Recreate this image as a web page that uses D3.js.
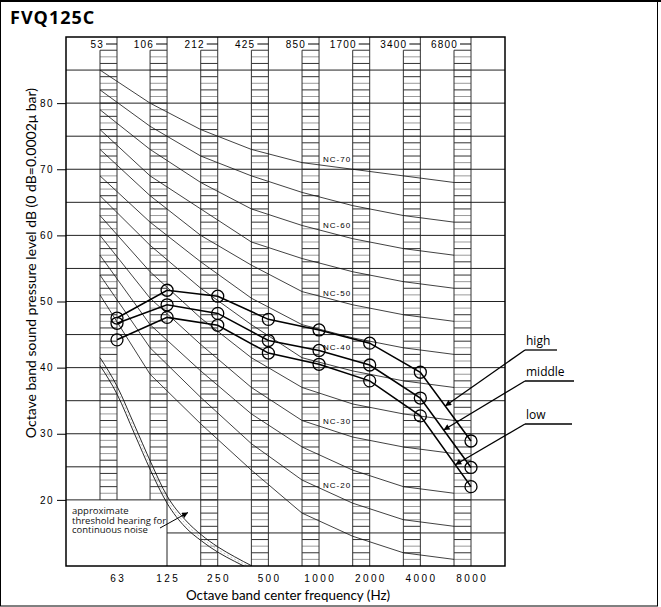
<!DOCTYPE html>
<html>
<head>
<meta charset="utf-8">
<script src="https://cdn.jsdelivr.net/npm/d3@7"></script>
<style>
  body { margin: 0; background: #fff; }
  svg text { font-family: "Open Sans", "Noto Sans", sans-serif; }
  .num { font-family: "Liberation Sans", Arial, sans-serif; }
  .ttl { font-family: Lato, "Open Sans", sans-serif; }
</style>
</head>
<body>
<div id="chart"></div>
<script>
// octave band centre frequencies (bottom) and old band centres (top)
var bands = [63, 125, 250, 500, 1000, 2000, 4000, 8000]
var oldBands = [53, 106, 212, 425, 850, 1700, 3400, 6800]
var yTicks = [20, 30, 40, 50, 60, 70, 80]

// NC curves, read at the old band centres (left edge of each hatched column)
var ncNames = ["NC-70", "NC-65", "NC-60", "NC-55", "NC-50", "NC-45", "NC-40", "NC-35", "NC-30", "NC-25", "NC-20", "NC-15"]
var nc70 = [85, 80, 76, 73, 71, 70, 69, 68]
var nc65 = [82, 76.5, 72, 69, 66.5, 64.5, 63, 62]
var nc60 = [79, 73, 68, 64, 61.5, 59.5, 58, 57]
var nc55 = [76, 69, 64, 59, 56.5, 54.5, 53, 52]
var nc50 = [73, 66, 60, 55.5, 51.5, 49.5, 48, 47]
var nc45 = [69, 62, 56, 50.5, 46.5, 44.5, 43, 42]
var nc40 = [66, 58.5, 52, 46.5, 41.5, 39.5, 38, 37]
var nc35 = [63, 54.5, 47.5, 41.5, 37, 34.5, 33, 32]
var nc30 = [60, 50.5, 43.5, 37, 32, 29.5, 28, 27]
var nc25 = [57, 46.5, 39.5, 33, 28, 24.5, 22, 21]
var nc20 = [54, 43, 35.5, 28.5, 23, 19.5, 17, 16]
var nc15 = [51, 39, 31.5, 24.5, 18, 14.5, 12, 11]
// labelled curves and the level their label sits at
var ncLabels = ["NC-70", "NC-60", "NC-50", "NC-40", "NC-30", "NC-20"]
var ncLabelDb = [71.5, 61.6, 51.3, 43.1, 31.9, 22.3]

// measured sound pressure levels of the unit (dB)
var high = [47.5, 51.7, 50.8, 47.3, 45.7, 43.7, 39.3, 28.9]
var middle = [46.7, 49.5, 48.2, 44.1, 42.6, 40.4, 35.4, 24.9]
var low = [44.2, 47.6, 46.4, 42.2, 40.5, 38.0, 32.7, 22.0]

// approximate threshold of hearing for continuous noise (two edges of the band)
var thrHz = [50, 63, 80, 100, 125, 160, 200, 250, 315, 400]
var thrDbA = [41.5, 37.2, 31.3, 25.7, 20.6, 17, 14.7, 12.9, 11.4, 10]
var thrDbB = [40.3, 36, 30, 24.4, 19.5, 15.9, 13.8, 12.1, 10.7, 9.4]

var W = 661, H = 607
var svg = d3.select("#chart").append("svg")
  .attr("width", W).attr("height", H)

// plot box
var pLeft = 66, pRight = 505, pTop = 37, pBottom = 566
var colW = 17

var x = d3.scaleLog().base(2).domain([63, 8000]).range([117, 471])
var y = d3.scaleLinear().domain([10, 90]).range([pBottom, pTop])

var defs = svg.append("defs")
defs.append("marker")
  .attr("id", "arr")
  .attr("viewBox", "0 0 10 10")
  .attr("refX", 10).attr("refY", 5)
  .attr("markerWidth", 9).attr("markerHeight", 6)
  .attr("markerUnits", "userSpaceOnUse")
  .attr("orient", "auto")
  .append("path").attr("d", "M0,0L10,5L0,10z").attr("fill", "#000")
defs.append("clipPath").attr("id", "plotclip")
  .append("rect").attr("x", pLeft).attr("y", pTop).attr("width", pRight - pLeft).attr("height", pBottom - pTop)

// outer border
svg.append("rect").attr("x", 0.5).attr("y", 1).attr("width", W - 4).attr("height", H - 2)
  .attr("fill", "none").attr("stroke", "#000").attr("stroke-width", 1)
svg.append("line").attr("x1", 0).attr("x2", W).attr("y1", 1).attr("y2", 1)
  .attr("stroke", "#000").attr("stroke-width", 2)

svg.append("text").attr("x", 10).attr("y", 24)
  .attr("font-size", 18).attr("font-weight", "bold").attr("letter-spacing", 1)
  .text("FVQ125C")

var g = svg.append("g")

// hatched columns
bands.forEach(function(f, i) {
  var xr = x(f), xl = xr - colW
  var lo = i < 2 ? 20 : 10
  var col = g.append("g")
  d3.range(lo + 1, 89).forEach(function(d) {
    col.append("line")
      .attr("x1", xl).attr("x2", xr).attr("y1", y(d)).attr("y2", y(d))
      .attr("stroke", d % 2 ? "#9a9a9a" : "#333").attr("stroke-width", 1)
  })
  col.append("line").attr("x1", xl).attr("x2", xl).attr("y1", y(88)).attr("y2", y(lo))
    .attr("stroke", "#333")
  col.append("line").attr("x1", xr).attr("x2", xr).attr("y1", pTop).attr("y2", y(lo))
    .attr("stroke", "#333")
  // old band label at the top
  g.append("line").attr("x1", xr - 11).attr("x2", xr).attr("y1", 44).attr("y2", 44)
    .attr("stroke", "#000")
  g.append("text").attr("class", "num")
    .attr("x", xr - 13).attr("y", 47.5).attr("text-anchor", "end")
    .attr("font-size", 10).attr("letter-spacing", 1.2)
    .text(oldBands[i])
  // band centre label at the bottom
  g.append("text").attr("class", "num")
    .attr("x", xr + 1.2).attr("y", 582).attr("text-anchor", "middle")
    .attr("font-size", 10).attr("letter-spacing", 2.4)
    .text(f)
})

// horizontal grid every 5 dB
d3.range(15, 90, 5).forEach(function(d) {
  g.append("line")
    .attr("x1", d < 20 ? 167 : pLeft).attr("x2", pRight)
    .attr("y1", y(d)).attr("y2", y(d))
    .attr("stroke", "#222").attr("stroke-width", 1)
})
// box for the threshold note
g.append("line").attr("x1", 167).attr("x2", 167).attr("y1", y(20)).attr("y2", pBottom)
  .attr("stroke", "#222")

// y axis
var yAxis = svg.append("g")
  .attr("transform", "translate(" + pLeft + ",0)")
  .call(d3.axisLeft(y).tickValues(yTicks).tickSize(9).tickPadding(3))
yAxis.select(".domain").remove()
yAxis.selectAll("text").attr("class", "num").attr("font-size", 10)
  .attr("letter-spacing", 1.5).attr("fill", "#000")
yAxis.selectAll("line").attr("stroke", "#000")

// NC curves
var ncAll = [nc70, nc65, nc60, nc55, nc50, nc45, nc40, nc35, nc30, nc25, nc20, nc15]
var ncLine = d3.line()
  .x(function(d, i) { return x(bands[i]) - colW })
  .y(function(d) { return y(d) })
var ncG = svg.append("g").attr("clip-path", "url(#plotclip)")
ncAll.forEach(function(vals, k) {
  ncG.append("path").datum(vals)
    .attr("d", ncLine)
    .attr("fill", "none").attr("stroke", "#111").attr("stroke-width", 0.8)
    .attr("class", ncNames[k])
})
ncLabels.forEach(function(t, i) {
  svg.append("text").attr("class", "num")
    .attr("x", x(1000) + 4).attr("y", y(ncLabelDb[i]) + 3)
    .attr("font-size", 8).attr("letter-spacing", 1)
    .text(t)
})

// threshold of hearing band
var thrLine = function(vals) {
  return d3.line()
    .x(function(d, i) { return x(thrHz[i]) })
    .y(function(d) { return y(d) })
    .curve(d3.curveMonotoneX)(vals)
}
ncG.append("path").attr("d", thrLine(thrDbA))
  .attr("fill", "none").attr("stroke", "#111").attr("stroke-width", 0.9)
ncG.append("path").attr("d", thrLine(thrDbB))
  .attr("fill", "none").attr("stroke", "#111").attr("stroke-width", 0.9)
ncG.append("path").attr("d", thrLine(thrDbA.map(function(d, i) { return (d + thrDbB[i]) / 2 })))
  .attr("fill", "none").attr("stroke", "#999").attr("stroke-width", 0.6)
  .attr("stroke-dasharray", "2,2")

// note
var note = svg.append("text").attr("font-size", 9.5).attr("fill", "#111")
;["approximate", "threshold hearing for", "continuous noise"].forEach(function(t, i) {
  note.append("tspan").attr("x", 72).attr("y", 514 + i * 9.5).text(t)
})
svg.append("line").attr("x1", 160).attr("y1", 528).attr("x2", 188).attr("y2", 512.5)
  .attr("stroke", "#000").attr("stroke-width", 1).attr("marker-end", "url(#arr)")

// measured series
var series = [
  { name: "high", vals: high, t: 0.49, ly: 345, uw: 32 },
  { name: "middle", vals: middle, t: 0.46, ly: 376, uw: 49 },
  { name: "low", vals: low, t: 0.69, ly: 419, uw: 47 }
]
var dLine = d3.line()
  .x(function(d, i) { return x(bands[i]) })
  .y(function(d) { return y(d) })
series.forEach(function(s) {
  svg.append("path").datum(s.vals).attr("d", dLine)
    .attr("fill", "none").attr("stroke", "#000").attr("stroke-width", 1.6)
  svg.selectAll(null).data(s.vals).enter().append("circle")
    .attr("cx", function(d, i) { return x(bands[i]) })
    .attr("cy", function(d) { return y(d) })
    .attr("r", 6)
    .attr("fill", "none").attr("stroke", "#000").attr("stroke-width", 1.3)

  // leader from the label to the last segment
  var x0 = x(4000), x1 = x(8000)
  var y0 = y(s.vals[6]), y1 = y(s.vals[7])
  var tx = x0 + (x1 - x0) * s.t, ty = y0 + (y1 - y0) * s.t
  svg.append("text").attr("x", 526).attr("y", s.ly).attr("font-size", 12).text(s.name)
  svg.append("line").attr("x1", 525).attr("x2", 525 + s.uw).attr("y1", s.ly + 5).attr("y2", s.ly + 5)
    .attr("stroke", "#000").attr("stroke-width", 1.3)
  svg.append("line").attr("x1", 525).attr("y1", s.ly + 5).attr("x2", tx).attr("y2", ty)
    .attr("stroke", "#000").attr("stroke-width", 1.3).attr("marker-end", "url(#arr)")
})

// plot frame
svg.append("rect").attr("x", pLeft).attr("y", pTop).attr("width", pRight - pLeft).attr("height", pBottom - pTop)
  .attr("fill", "none").attr("stroke", "#000").attr("stroke-width", 1.5)

// axis titles
svg.append("text").attr("class", "ttl").attr("x", 288).attr("y", 600).attr("text-anchor", "middle")
  .attr("font-size", 13.4).text("Octave band center frequency (Hz)")
svg.append("text").attr("class", "ttl").attr("transform", "translate(36,263) rotate(-90)")
  .attr("text-anchor", "middle").attr("font-size", 14)
  .text("Octave band sound pressure level dB (0 dB=0.0002μ bar)")
</script>
</body>
</html>
